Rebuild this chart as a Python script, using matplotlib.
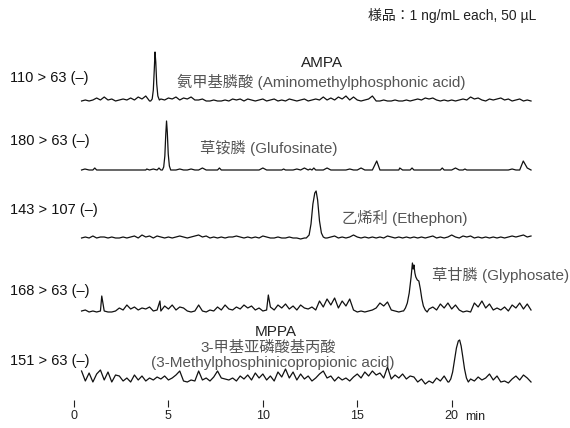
import matplotlib
matplotlib.use("Agg")
import matplotlib.pyplot as plt
import numpy as np

plt.rcParams['font.family'] = ['Liberation Sans', 'Noto Sans CJK JP', 'DejaVu Sans']

# ---------------- data ----------------
TIME_START = 0.4   # min, first sample of the noise grids
TIME_STEP = 0.2    # min

ticks = [0, 5, 10, 15, 20]
tick_labels = ["0", "5", "10", "15", "20"]

channels = ["110 > 63 (\u2013)", "180 > 63 (\u2013)", "143 > 107 (\u2013)",
            "168 > 63 (\u2013)", "151 > 63 (\u2013)"]

# AMPA trace
ampa_noise = [1, 2, 1, 2, 4, 2, 5, 2, 3, 1,
              2, 3, 2, 4, 2, 5, 3, 6, 1, 0,
              0, 3, 2, 4, 3, 5, 2, 4, 3, 5,
              2, 2, 3, 1, 1, 2, 1, 1, 2, 1,
              3, 2, 3, 1, 3, 2, 1, 2, 3, 1,
              2, 3, 1, 2, 1, 3, 2, 1, 2, 3,
              1, 2, 3, 2, 5, 2, 4, 2, 5, 3,
              6, 2, 5, 2, 1, 2, 3, 6, 1, 1,
              2, 1, 1, 2, 1, 1, 2, 1, 2, 3,
              2, 4, 3, 4, 2, 1, 2, 1, 2, 1,
              2, 3, 2, 5, 3, 4, 2, 1, 3, 2,
              3, 4, 2, 3, 1, 2, 3, 1, 2, 1]
ampa_peak_t = [4.06, 4.14, 4.2, 4.25, 4.29, 4.33, 4.38, 4.44, 4.52]
ampa_peak_v = [1, 3, 12, 32, 50, 40, 18, 6, 2]
ampa_spike_t = []
ampa_spike_v = []

# Glufosinate trace (flat baseline with small spikes)
glu_noise = [0] * 120
glu_peak_t = [4.68, 4.75, 4.81, 4.86, 4.9, 4.94, 4.99, 5.05, 5.12]
glu_peak_v = [0, 3, 14, 36, 49, 38, 16, 4, 0]
glu_spike_t = [0.58, 1.1, 3.85, 4.2, 4.5, 5.6, 6.2, 6.8, 7.7, 10.0, 11.1, 11.8,
               12.2, 12.5, 12.7, 13.4, 14.6, 15.2, 16.03, 17.25, 17.9, 19.5,
               20.2, 20.7, 23.2, 23.79, 24.0]
glu_spike_v = [1, 2, 1, 1, 2, 1, 1, 2, 2, 2, 1, 1,
               2, 1, 2, 2, 1, 2, 9, 2, 2, 2,
               2, 1, 1, 9, 2]

# Ethephon trace
eth_noise = [1, 2, 1, 3, 1, 2, 2, 1, 2, 1,
             1, 2, 1, 2, 3, 1, 4, 2, 3, 1,
             3, 2, 1, 2, 1, 2, 3, 2, 1, 2,
             3, 4, 2, 3, 1, 2, 1, 2, 1, 2,
             2, 3, 2, 1, 2, 1, 2, 1, 3, 2,
             1, 1, 2, 1, 1, 2, 1, 1, 0, 1,
             0, 0, 0, 0, 0, 1, 2, 3, 1, 2,
             1, 2, 4, 2, 1, 2, 1, 2, 1, 2,
             1, 3, 2, 1, 2, 1, 2, 1, 2, 1,
             2, 1, 2, 3, 1, 2, 1, 2, 4, 2,
             1, 3, 2, 3, 1, 2, 1, 2, 1, 2,
             1, 2, 1, 2, 3, 2, 3, 4, 2, 3]
eth_peak_t = [12.3, 12.45, 12.55, 12.65, 12.75, 12.82, 12.9, 13.0, 13.1, 13.2, 13.3]
eth_peak_v = [1, 4, 15, 35, 46, 48, 39, 18, 6, 2, 1]
eth_spike_t = []
eth_spike_v = []

# Glyphosate trace
gly_noise = [2, 3, 1, 2, 1, 2, 2, 1, 1, 2,
             5, 3, 8, 4, 6, 3, 5, 4, 6, 2,
             3, 2, 7, 4, 8, 3, 6, 5, 2, 1,
             2, 8, 2, 1, 3, 2, 6, 3, 8, 4,
             3, 6, 4, 8, 5, 7, 3, 5, 2, 3,
             6, 3, 8, 5, 9, 4, 7, 3, 8, 5,
             4, 6, 3, 12, 6, 14, 8, 15, 5, 12,
             7, 14, 3, 1, 2, 1, 2, 3, 5, 10,
             7, 11, 3, 2, 1, 2, 0, 0, 0, 0,
             0, 0, 4, 6, 3, 9, 5, 10, 4, 8,
             3, 1, 2, 1, 10, 6, 12, 5, 9, 3,
             5, 3, 6, 2, 8, 5, 10, 4, 9, 3]
gly_peak_t = [17.45, 17.55, 17.65, 17.75, 17.85, 17.92, 17.96, 18.0, 18.05, 18.1,
              18.18, 18.26, 18.34, 18.42, 18.5, 18.6, 18.7]
gly_peak_v = [2, 5, 10, 20, 36, 50, 44, 48, 40, 36, 33, 32, 24, 14, 7, 3, 1]
gly_spike_t = [1.47, 4.55, 10.29]
gly_spike_v = [17, 12, 18]

# MPPA trace
mppa_noise = [13, 3, 11, 2, 10, 14, 4, 12, 2, 9,
              8, 3, 6, 2, 9, 4, 8, 3, 6, 4,
              7, 5, 8, 4, 6, 9, 13, 3, 2, 4,
              3, 13, 4, 6, 3, 7, 13, 6, 5, 4,
              6, 3, 8, 5, 9, 4, 11, 6, 10, 4,
              8, 3, 12, 7, 15, 6, 12, 4, 10, 5,
              8, 3, 6, 10, 13, 6, 8, 3, 7, 4,
              6, 3, 7, 10, 6, 12, 8, 13, 9, 11,
              6, 17, 5, 9, 6, 10, 5, 8, 7, 2,
              5, 0, 3, 1, 6, 3, 8, 2, 0, 0,
              0, 0, 0, 5, 3, 7, 4, 6, 10, 4,
              8, 2, 3, 1, 5, 8, 4, 9, 6, 2]
mppa_peak_t = [19.85, 19.95, 20.05, 20.15, 20.25, 20.35, 20.42, 20.5, 20.58,
               20.68, 20.78, 20.88]
mppa_peak_v = [2, 5, 12, 24, 36, 43, 44, 38, 28, 15, 6, 2]
mppa_spike_t = []
mppa_spike_v = []

# ---------------- layout ----------------
W, H = 570, 428
X0_PX = 74.0          # pixel of 0 min
PX_PER_MIN = 18.885
AX_H_PX = 400.0
baselines = [102, 170, 239, 313, 384]   # pixel row of zero signal


def px2t(px):
    return (px - X0_PX) / PX_PER_MIN


def build(noise, peak_t, peak_v, spike_t, spike_v):
    tg = TIME_START + TIME_STEP * np.arange(len(noise))
    vg = np.asarray(noise, float)
    keep = np.ones(len(tg), bool)
    m = 0.04
    if len(peak_t):
        keep &= ~((tg >= min(peak_t) - m) & (tg <= max(peak_t) + m))
    for s in spike_t:
        keep &= ~(np.abs(tg - s) < m)
    t = np.concatenate([tg[keep], peak_t, spike_t])
    v = np.concatenate([vg[keep], peak_v, spike_v])
    o = np.argsort(t, kind="stable")
    return t[o], v[o]


traces = [
    build(ampa_noise, ampa_peak_t, ampa_peak_v, ampa_spike_t, ampa_spike_v),
    build(glu_noise, glu_peak_t, glu_peak_v, glu_spike_t, glu_spike_v),
    build(eth_noise, eth_peak_t, eth_peak_v, eth_spike_t, eth_spike_v),
    build(gly_noise, gly_peak_t, gly_peak_v, gly_spike_t, gly_spike_v),
    build(mppa_noise, mppa_peak_t, mppa_peak_v, mppa_spike_t, mppa_spike_v),
]

fig = plt.figure(figsize=(W / 100, H / 100), dpi=100)
ax = fig.add_axes([0, (H - AX_H_PX) / H, 1, AX_H_PX / H])
ax.set_xlim(px2t(0), px2t(W))
ax.set_ylim(AX_H_PX, 0)
for sp in ax.spines.values():
    sp.set_visible(False)
ax.set_yticks([])
ax.set_xticks(ticks)
ax.set_xticklabels(tick_labels)
ax.tick_params(axis='x', direction='out', length=5, width=0.8, pad=2.5,
               labelsize=9, colors='#222')

for (t, v), base in zip(traces, baselines):
    ax.plot(t, base - v, color='#111', lw=0.9, solid_joinstyle='round')

label_y = [78, 141, 210, 291, 361]
for lab, y in zip(channels, label_y):
    ax.text(px2t(10), y, lab, ha='left', va='center', fontsize=10.5, color='#111')

ax.text(px2t(475), 417, "min", ha='center', va='center', fontsize=9,
        color='#222', clip_on=False)
ax.text(px2t(452), 15, "様品：1 ng/mL each, 50 µL", ha='center', va='center',
        fontsize=10, color='#222')

grey = '#555'
ax.text(px2t(322), 63, "AMPA", ha='center', va='center', fontsize=11, color='#222')
ax.text(px2t(321), 82, "氨甲基膦酸 (Aminomethylphosphonic acid)", ha='center',
        va='center', fontsize=11, color=grey)
ax.text(px2t(200), 148, "草铵膦 (Glufosinate)", ha='left', va='center',
        fontsize=11, color=grey)
ax.text(px2t(342), 218, "乙烯利 (Ethephon)", ha='left', va='center',
        fontsize=11, color=grey)
ax.text(px2t(432), 275, "草甘膦 (Glyphosate)", ha='left', va='center',
        fontsize=11, color=grey)
ax.text(px2t(276), 332, "MPPA", ha='center', va='center', fontsize=11, color='#222')
ax.text(px2t(268), 348, "3-甲基亚磷酸基丙酸", ha='center', va='center',
        fontsize=11, color=grey)
ax.text(px2t(273), 363, "(3-Methylphosphinicopropionic acid)", ha='center',
        va='center', fontsize=11, color=grey)

fig.savefig("out.png", dpi=100)
